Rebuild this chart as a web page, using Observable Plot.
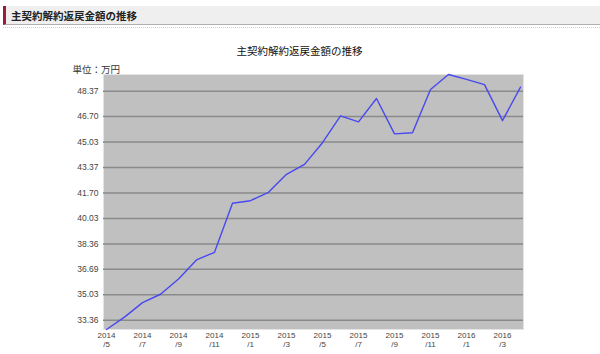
<!DOCTYPE html>
<html>
<head>
<meta charset="utf-8">
<script src="https://cdn.jsdelivr.net/npm/d3@7"></script>
<script src="https://cdn.jsdelivr.net/npm/@observablehq/plot@0.6"></script>
<style>
  html, body { margin: 0; padding: 0; background: #fff; width: 600px; height: 354px; overflow: hidden; }
  #hdr { position: absolute; left: 3px; top: 6px; width: 597px; height: 19px; background: #efefef;
         border-left: 3px solid #9b1c38; border-bottom: 1px solid #b0b0b0; box-sizing: border-box; }
  #hdr span { position: absolute; left: 5px; top: 2px; font: bold 10.5px "Noto Sans CJK JP", sans-serif; color: #222; }
  #dots { position: absolute; left: 3px; top: 27px; width: 597px; border-top: 1px dotted #cfcfcf; }
  #chart { position: absolute; left: 0; top: 28px; }
</style>
</head>
<body>
<div id="hdr"><span>主契約解約返戻金額の推移</span></div>
<div id="dots"></div>
<div id="chart"></div>
<script>
const months = ["2014/5","2014/6","2014/7","2014/8","2014/9","2014/10","2014/11","2014/12",
  "2015/1","2015/2","2015/3","2015/4","2015/5","2015/6","2015/7","2015/8","2015/9","2015/10",
  "2015/11","2015/12","2016/1","2016/2","2016/3","2016/4"];
const values = [32.75,33.56,34.51,35.06,36.06,37.31,37.81,41.02,41.19,41.74,42.92,43.57,
  44.99,46.75,46.36,47.89,45.57,45.64,48.48,49.46,49.14,48.80,46.44,48.63];
const yTicks = [33.36,35.03,36.69,38.36,40.03,41.70,43.37,45.03,46.70,48.37];
const xTicks = months.filter((d, i) => i % 2 === 0);
const chartTitle = "主契約解約返戻金額の推移";
const unitLabel = "単位：万円";

const data = months.map((m, i) => ({month: m, value: values[i]}));

const chart = Plot.plot({
  width: 600,
  height: 326,
  marginLeft: 103,
  marginRight: 77,
  marginTop: 46,
  marginBottom: 25,
  style: {fontFamily: "'Noto Sans CJK JP', sans-serif", fontSize: "9px", color: "#333", background: "transparent"},
  x: {type: "point", domain: months, padding: 0, label: null},
  y: {domain: [32.75, 49.46], label: null},
  marks: [
    Plot.frame({fill: "#c0c0c0", stroke: "#e4e4e4", strokeWidth: 1}),
    Plot.ruleY(yTicks, {stroke: "#8a8a8a", strokeWidth: 1.5}),
    Plot.axisY({ticks: yTicks, tickFormat: d3.format(".2f"), tickSize: 0, tickPadding: 5, fill: "#444",
      fontFamily: "'Liberation Sans', sans-serif", fontSize: 8.5}),
    Plot.axisX({ticks: xTicks, tickFormat: d => d.replace("/", "\n/"), tickSize: 0, tickPadding: 2, fill: "#444",
      fontFamily: "'Liberation Sans', sans-serif", fontSize: 8, lineHeight: 1.15}),
    Plot.line(data, {x: "month", y: "value", stroke: "#4848f0", strokeWidth: 1.4}),
    Plot.text([chartTitle], {frameAnchor: "top", dx: -14, dy: -27, fontSize: 10.5, fill: "#111", text: d => d}),
    Plot.text([unitLabel], {frameAnchor: "top-left", textAnchor: "start", dx: -31, dy: -8, fontSize: 9.5, fill: "#333", text: d => d})
  ]
});
document.getElementById("chart").appendChild(chart);
</script>
</body>
</html>
